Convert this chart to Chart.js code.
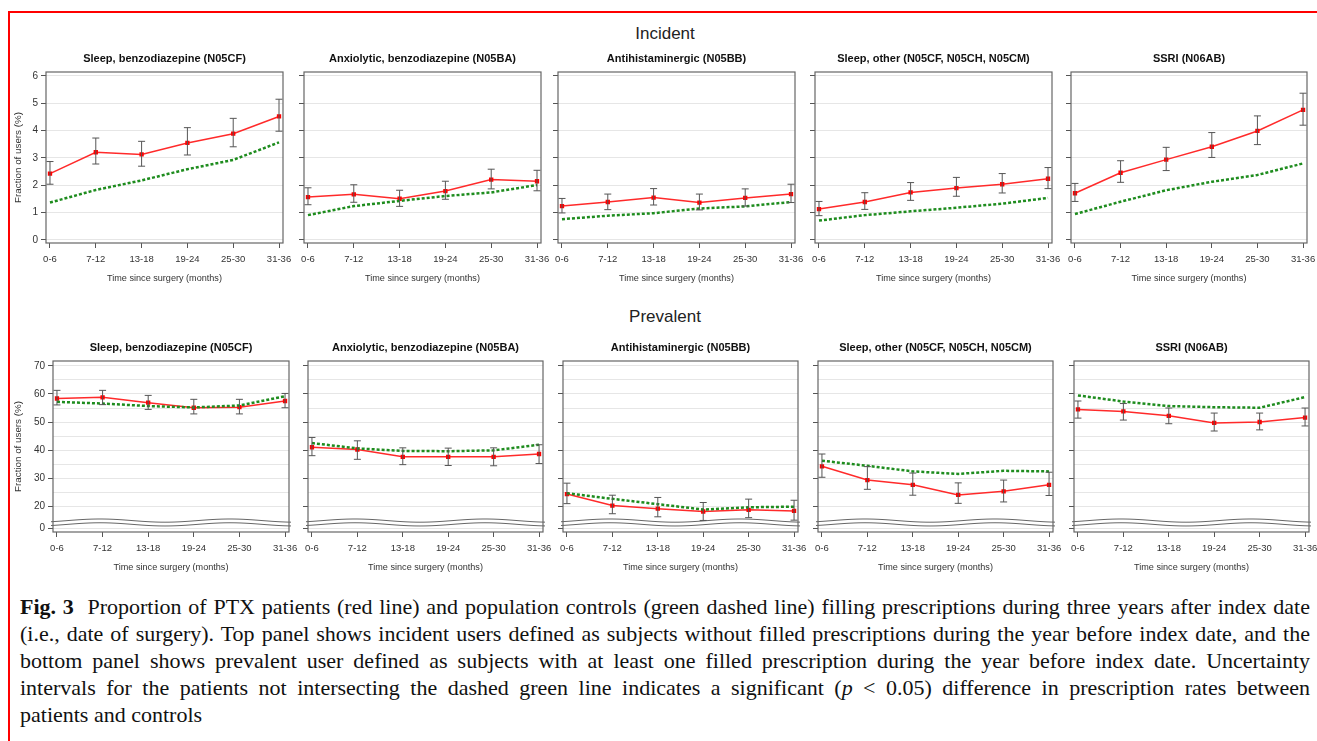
<!DOCTYPE html>
<html>
<head>
<meta charset="utf-8">
<script src="https://cdn.jsdelivr.net/npm/chart.js@4.4.0/dist/chart.umd.min.js"></script>
<style>
  body { margin: 0; background: #fff; width: 1317px; height: 741px; overflow: hidden; position: relative; }
  #frame { position: absolute; left: 8px; top: 11px; width: 1400px; height: 800px; border-left: 2px solid #f00; border-top: 2px solid #f00; }
  .head { position: absolute; left: 0; width: 1330px; text-align: center; font: 17px 'Liberation Sans', Arial, sans-serif; color: #222; }
  canvas { position: absolute; }
  #caption { position: absolute; left: 20px; width: 1290px; top: 593px; font: 22px/27px 'Liberation Serif', 'Times New Roman', serif; color: #111; }
  #caption div { white-space: nowrap; text-align: justify; text-align-last: justify; }
  #caption div:last-child { text-align-last: left; }
</style>
</head>
<body>
<div id="frame"></div>
<div class="head" style="top:24px">Incident</div>
<div class="head" style="top:307px">Prevalent</div>
<div id="caption">
  <div><b>Fig. 3</b>&nbsp;&nbsp;Proportion of PTX patients (red line) and population controls (green dashed line) filling prescriptions during three years after index date</div>
  <div>(i.e., date of surgery). Top panel shows incident users defined as subjects without filled prescriptions during the year before index date, and the</div>
  <div>bottom panel shows prevalent user defined as subjects with at least one filled prescription during the year before index date. Uncertainty</div>
  <div>intervals for the patients not intersecting the dashed green line indicates a significant (<i>p</i> &lt; 0.05) difference in prescription rates between</div>
  <div>patients and controls</div>
</div>
<script>
const categories = ['0-6', '7-12', '13-18', '19-24', '25-30', '31-36'];
const drugTitles = ['Sleep, benzodiazepine (N05CF)', 'Anxiolytic, benzodiazepine (N05BA)', 'Antihistaminergic (N05BB)', 'Sleep, other (N05CF, N05CH, N05CM)', 'SSRI (N06AB)'];

// incident users, fraction (%)
const incPatients = [
  [2.43, 3.21, 3.13, 3.55, 3.89, 4.52],
  [1.57, 1.67, 1.51, 1.79, 2.21, 2.15],
  [1.24, 1.39, 1.55, 1.37, 1.54, 1.68],
  [1.13, 1.39, 1.74, 1.90, 2.04, 2.24],
  [1.71, 2.46, 2.94, 3.41, 3.99, 4.76]
];
const incLower = [
  [2.04, 2.78, 2.70, 3.11, 3.41, 3.98],
  [1.29, 1.38, 1.23, 1.49, 1.87, 1.80],
  [0.99, 1.11, 1.28, 1.10, 1.24, 1.37],
  [0.89, 1.12, 1.45, 1.60, 1.72, 1.88],
  [1.41, 2.11, 2.54, 3.02, 3.49, 4.20]
];
const incUpper = [
  [2.87, 3.73, 3.61, 4.11, 4.45, 5.15],
  [1.91, 2.02, 1.82, 2.15, 2.59, 2.55],
  [1.52, 1.68, 1.88, 1.68, 1.87, 2.04],
  [1.41, 1.73, 2.10, 2.29, 2.43, 2.65],
  [2.07, 2.90, 3.39, 3.93, 4.54, 5.37]
];
const incControls = [
  [1.37, 1.83, 2.18, 2.59, 2.93, 3.57],
  [0.91, 1.24, 1.43, 1.61, 1.74, 2.01],
  [0.76, 0.89, 0.98, 1.15, 1.23, 1.39],
  [0.71, 0.91, 1.05, 1.18, 1.33, 1.54],
  [0.95, 1.40, 1.82, 2.13, 2.38, 2.80]
];

// prevalent users, fraction (%)
const prevPatients = [
  [58.4, 58.8, 56.9, 55.1, 55.3, 57.5],
  [41.0, 40.2, 37.6, 37.6, 37.6, 38.6],
  [24.3, 20.2, 19.1, 18.1, 18.7, 18.3],
  [34.2, 29.3, 27.6, 24.0, 25.3, 27.6],
  [54.5, 53.8, 52.2, 49.7, 50.0, 51.6]
];
const prevLower = [
  [56.1, 56.2, 54.5, 52.9, 52.9, 55.1],
  [38.0, 36.7, 34.8, 34.5, 34.4, 35.2],
  [20.9, 17.3, 16.2, 14.9, 15.9, 15.0],
  [30.3, 26.0, 23.9, 21.0, 21.5, 23.8],
  [51.4, 50.7, 49.4, 46.8, 47.2, 48.6]
];
const prevUpper = [
  [61.3, 61.3, 59.5, 58.1, 58.1, 60.2],
  [44.5, 43.3, 40.8, 40.7, 40.8, 41.9],
  [28.2, 23.9, 23.1, 21.3, 22.5, 22.1],
  [38.6, 34.1, 31.8, 28.3, 29.3, 32.1],
  [57.5, 56.6, 55.0, 53.2, 53.2, 55.0]
];
const prevControls = [
  [57.2, 56.6, 55.7, 55.2, 55.9, 59.2],
  [42.5, 40.6, 39.7, 39.6, 39.9, 41.9],
  [24.6, 22.6, 20.7, 18.8, 19.6, 19.8],
  [36.2, 34.4, 32.4, 31.5, 32.6, 32.4],
  [59.5, 57.3, 55.7, 55.3, 55.1, 58.9]
];

const incTicks = [0, 1, 2, 3, 4, 5, 6];
const prevTicks = [0, 20, 25, 30, 35, 40, 45, 50, 55, 60, 65, 70];
const prevBreakValue = 12.2; // axis value where the "0" tick sits under the break

const FONT = "'Liberation Sans', Arial, sans-serif";
const AXIS = '#555';

const frame = {
  id: 'frame',
  afterDraw(chart) {
    const {ctx, chartArea: a} = chart;
    ctx.save();
    ctx.strokeStyle = '#666';
    ctx.lineWidth = 1.2;
    ctx.strokeRect(a.left, a.top, a.right - a.left, a.bottom - a.top);
    ctx.restore();
  }
};

const axisBreak = {
  id: 'axisBreak',
  beforeDatasetsDraw(chart) {
    if (!chart.config.options.brokenAxis) return;
    const {ctx, chartArea: a, scales: {y}} = chart;
    const yUp = y.getPixelForValue(14.85), yLo = y.getPixelForValue(13.5);
    const wave = (x, base) => base - 1.6 * Math.cos(2 * Math.PI * (x - a.left - 47) / 130);
    ctx.save();
    ctx.beginPath();
    for (let x = a.left - 2; x <= a.right + 2; x++) ctx.lineTo(x, wave(x, yUp));
    for (let x = a.right + 2; x >= a.left - 2; x--) ctx.lineTo(x, wave(x, yLo));
    ctx.closePath();
    ctx.fillStyle = '#fff';
    ctx.fill();
    ctx.strokeStyle = '#666';
    ctx.lineWidth = 1;
    [yUp, yLo].forEach(b => {
      ctx.beginPath();
      for (let x = a.left - 2; x <= a.right + 2; x++) ctx.lineTo(x, wave(x, b));
      ctx.stroke();
    });
    ctx.restore();
  }
};

const errorBars = {
  id: 'errorBars',
  afterDatasetsDraw(chart) {
    const ds = chart.data.datasets[1];
    const {ctx, scales: {x, y}} = chart;
    ctx.save();
    ctx.strokeStyle = '#555';
    ctx.lineWidth = 1;
    ds.errLow.forEach((lo, i) => {
      const px = x.getPixelForValue(i);
      const y1 = y.getPixelForValue(lo), y2 = y.getPixelForValue(ds.errHigh[i]);
      ctx.beginPath();
      ctx.moveTo(px, y1); ctx.lineTo(px, y2);
      ctx.moveTo(px - 3.5, y1); ctx.lineTo(px + 3.5, y1);
      ctx.moveTo(px - 3.5, y2); ctx.lineTo(px + 3.5, y2);
      ctx.stroke();
    });
    ctx.restore();
  }
};

const rows = [
  {top: 40, boxes: [[46, 283], [304, 541], [558, 795], [815, 1052], [1071, 1307]], min: -0.11, max: 6.146,
   patients: incPatients, lower: incLower, upper: incUpper, controls: incControls, broken: false},
  {top: 329, boxes: [[53, 289], [308, 543], [563, 798], [818, 1053], [1074, 1309]], min: 10.78, max: 71.77,
   patients: prevPatients, lower: prevLower, upper: prevUpper, controls: prevControls, broken: true}
];

const pts = vals => vals.map((v, i) => ({x: i, y: v}));

rows.forEach(row => {
  row.boxes.forEach(([l, r], p) => {
    const first = p === 0;
    const axisW = first ? l - 6 : 40;
    const cv = document.createElement('canvas');
    const w = axisW + (r - l) + 14;
    cv.width = w; cv.height = 248;
    cv.style.left = (l - axisW) + 'px';
    cv.style.top = row.top + 'px';
    cv.style.width = w + 'px'; cv.style.height = '248px';
    document.body.appendChild(cv);

    new Chart(cv.getContext('2d'), {
      type: 'line',
      data: {
        datasets: [{
          label: 'Controls',
          data: pts(row.controls[p]),
          borderColor: '#1e8c1e',
          borderWidth: 2.5,
          borderDash: [3, 2],
          pointRadius: 0,
          tension: 0
        }, {
          label: 'Patients',
          data: pts(row.patients[p]),
          errLow: row.lower[p],
          errHigh: row.upper[p],
          borderColor: '#ff2a2a',
          borderWidth: 1.5,
          pointStyle: 'rect',
          pointRadius: 2,
          pointBackgroundColor: '#f00',
          pointBorderColor: '#f00',
          tension: 0
        }]
      },
      options: {
        responsive: false,
        animation: false,
        devicePixelRatio: 1,
        brokenAxis: row.broken,
        layout: {padding: {left: 0, right: 14, top: 0, bottom: 0}},
        plugins: {
          legend: {display: false},
          tooltip: {enabled: false},
          title: {
            display: true,
            text: drugTitles[p],
            fullSize: false,
            color: '#111',
            font: {family: FONT, size: 11, weight: 'bold'},
            padding: {top: 12.4, bottom: 6.4}
          }
        },
        scales: {
          x: {
            type: 'linear',
            min: -0.087, max: 5.087,
            afterBuildTicks: s => { s.ticks = categories.map((c, i) => ({value: i})); },
            afterFit: s => { s.height = 45; s.paddingLeft = 0; s.paddingRight = 0; },
            ticks: {
              autoSkip: false, maxRotation: 0, padding: 5.5,
              color: '#333', font: {family: FONT, size: 9.5},
              callback: v => categories[v]
            },
            grid: {drawOnChartArea: false, drawTicks: true, tickLength: 5, tickColor: AXIS},
            border: {display: false},
            title: {display: true, text: 'Time since surgery (months)', color: '#333',
                    font: {family: FONT, size: 9.1}, padding: {top: 0, bottom: 4.5}}
          },
          y: {
            type: 'linear',
            min: row.min, max: row.max,
            afterBuildTicks: s => {
              s.ticks = row.broken
                ? prevTicks.map(v => ({value: v === 0 ? prevBreakValue : v}))
                : incTicks.map(v => ({value: v}));
            },
            afterFit: s => { s.width = axisW; s.paddingTop = 0; s.paddingBottom = 0; },
            ticks: {
              autoSkip: false, padding: 3, color: '#333', font: {family: FONT, size: 10},
              callback: v => {
                if (!first) return '';
                if (!row.broken) return String(v);
                if (v === prevBreakValue) return '0';
                return v % 10 === 0 ? String(v) : '';
              }
            },
            grid: {
              color: '#e6e6e6', lineWidth: 1, tickLength: 5,
              tickColor: c => (!row.broken || c.tick.value === prevBreakValue || c.tick.value % 10 === 0) ? AXIS : 'rgba(0,0,0,0)'
            },
            border: {display: false},
            title: {display: first, text: 'Fraction of users (%)', color: '#333',
                    font: {family: FONT, size: 9.8}, padding: {top: 6.1, bottom: 0}}
          }
        }
      },
      plugins: [axisBreak, errorBars, frame]
    });
  });
});
</script>
</body>
</html>
